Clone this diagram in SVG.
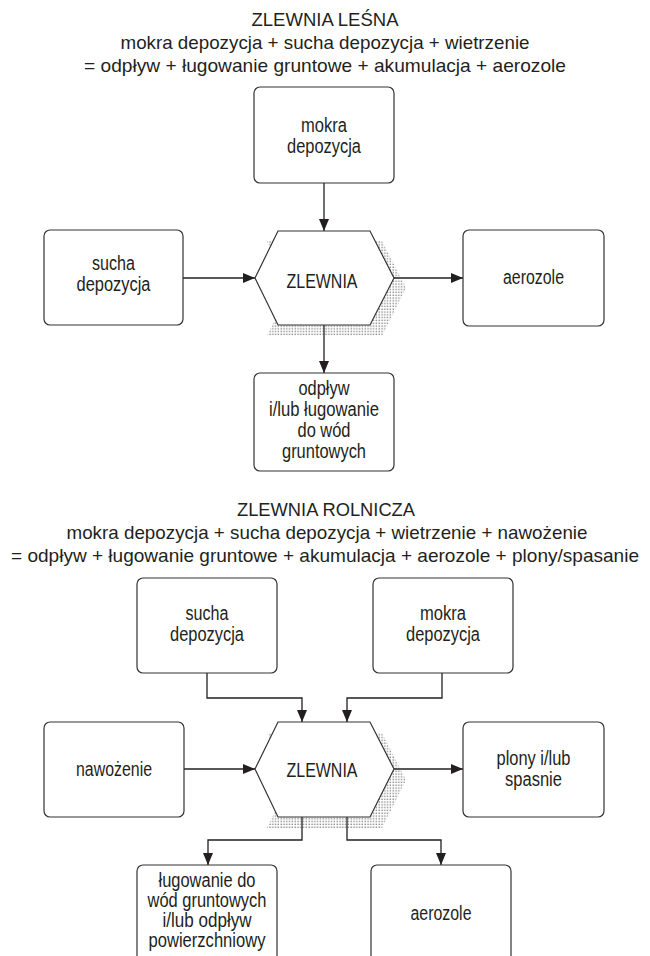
<svg xmlns="http://www.w3.org/2000/svg" width="650" height="956" viewBox="0 0 650 956">
<style>
.t{font-family:"Liberation Sans",Arial,sans-serif;fill:#231f20;text-anchor:middle;}
.h{font-size:19px;}
.n{font-size:19.5px;}
.z{font-size:20.5px;}
.box{fill:#fff;stroke:#333;stroke-width:1.2;}
.hex{fill:#fff;stroke:#333;stroke-width:1.2;}
.c{fill:none;stroke:#231f20;stroke-width:1.3;}
</style>
<defs>
<pattern id="dots" width="2.8" height="2.8" patternUnits="userSpaceOnUse">
<rect x="0.6" y="0.6" width="1.1" height="1.1" fill="#444"/>
</pattern>
<marker id="ah" markerUnits="userSpaceOnUse" markerWidth="12" markerHeight="10" refX="12" refY="5" orient="auto">
<path d="M0,0 L12,5 L0,10 z" fill="#231f20"/>
</marker>
</defs>

<!-- Titles -->
<g id="title-lesna">
<text class="t h" x="325" y="26" textLength="147" lengthAdjust="spacingAndGlyphs">ZLEWNIA LEŚNA</text>
<text class="t h" x="325" y="49" textLength="409" lengthAdjust="spacingAndGlyphs">mokra depozycja + sucha depozycja + wietrzenie</text>
<text class="t h" x="325" y="72" textLength="482" lengthAdjust="spacingAndGlyphs">= odpływ + ługowanie gruntowe + akumulacja + aerozole</text>
</g>
<g id="title-rolnicza">
<text class="t h" x="326" y="516" textLength="178" lengthAdjust="spacingAndGlyphs">ZLEWNIA ROLNICZA</text>
<text class="t h" x="327" y="539" textLength="521" lengthAdjust="spacingAndGlyphs">mokra depozycja + sucha depozycja + wietrzenie + nawożenie</text>
<text class="t h" x="325" y="562" textLength="628" lengthAdjust="spacingAndGlyphs">= odpływ + ługowanie gruntowe + akumulacja + aerozole + plony/spasanie</text>
</g>

<!-- Connectors -->
<g id="connectors">
<path class="c" d="M324,183 V231" marker-end="url(#ah)"/>
<path class="c" d="M183,278 H255" marker-end="url(#ah)"/>
<path class="c" d="M394,278 H463" marker-end="url(#ah)"/>
<path class="c" d="M324,325 V373" marker-end="url(#ah)"/>
<path class="c" d="M207,673 V698 H302 V722" marker-end="url(#ah)"/>
<path class="c" d="M442,673 V698 H347 V722" marker-end="url(#ah)"/>
<path class="c" d="M184,769 H255" marker-end="url(#ah)"/>
<path class="c" d="M394,769 H463" marker-end="url(#ah)"/>
<path class="c" d="M302,817 V840 H208 V865" marker-end="url(#ah)"/>
<path class="c" d="M347,817 V840 H441 V865" marker-end="url(#ah)"/>
</g>

<!-- Top section nodes -->
<g id="l-mokra">
<rect class="box" x="254" y="87" width="140" height="96" rx="6"/>
<text class="t n" x="324" y="132" textLength="46" lengthAdjust="spacingAndGlyphs">mokra</text>
<text class="t n" x="324" y="153" textLength="74" lengthAdjust="spacingAndGlyphs">depozycja</text>
</g>
<g id="l-sucha">
<rect class="box" x="44" y="230" width="139" height="95" rx="6"/>
<text class="t n" x="113.5" y="270" textLength="43" lengthAdjust="spacingAndGlyphs">sucha</text>
<text class="t n" x="113.5" y="291" textLength="74" lengthAdjust="spacingAndGlyphs">depozycja</text>
</g>
<g id="l-aerozole">
<rect class="box" x="463" y="230" width="141" height="96" rx="6"/>
<text class="t n" x="533.5" y="284" textLength="61" lengthAdjust="spacingAndGlyphs">aerozole</text>
</g>
<g id="l-zlewnia">
<polygon points="267,241 382,241 406,288 382,336 267,336 290,288" fill="url(#dots)"/>
<polygon class="hex" points="278,231 370,231 394,278 370,325 278,325 255,278"/>
<text class="t z" x="322" y="288" textLength="71" lengthAdjust="spacingAndGlyphs">ZLEWNIA</text>
</g>
<g id="l-odplyw">
<rect class="box" x="254" y="373" width="140" height="98" rx="6"/>
<text class="t n" x="324" y="395" textLength="51" lengthAdjust="spacingAndGlyphs">odpływ</text>
<text class="t n" x="324" y="416" textLength="110" lengthAdjust="spacingAndGlyphs">i/lub ługowanie</text>
<text class="t n" x="324" y="437" textLength="53" lengthAdjust="spacingAndGlyphs">do wód</text>
<text class="t n" x="324" y="458" textLength="84" lengthAdjust="spacingAndGlyphs">gruntowych</text>
</g>

<!-- Bottom section nodes -->
<g id="r-sucha">
<rect class="box" x="137" y="578" width="140" height="95" rx="6"/>
<text class="t n" x="207" y="620" textLength="43" lengthAdjust="spacingAndGlyphs">sucha</text>
<text class="t n" x="207" y="641" textLength="74" lengthAdjust="spacingAndGlyphs">depozycja</text>
</g>
<g id="r-mokra">
<rect class="box" x="373" y="578" width="140" height="95" rx="6"/>
<text class="t n" x="443" y="620" textLength="46" lengthAdjust="spacingAndGlyphs">mokra</text>
<text class="t n" x="443" y="641" textLength="74" lengthAdjust="spacingAndGlyphs">depozycja</text>
</g>
<g id="r-nawozenie">
<rect class="box" x="44" y="722" width="140" height="95" rx="6"/>
<text class="t n" x="114" y="776" textLength="76" lengthAdjust="spacingAndGlyphs">nawożenie</text>
</g>
<g id="r-plony">
<rect class="box" x="463" y="722" width="141" height="95" rx="6"/>
<text class="t n" x="533.5" y="765" textLength="74" lengthAdjust="spacingAndGlyphs">plony i/lub</text>
<text class="t n" x="533.5" y="786" textLength="57" lengthAdjust="spacingAndGlyphs">spasnie</text>
</g>
<g id="r-zlewnia">
<polygon points="267,733 382,733 406,780 382,828 267,828 290,780" fill="url(#dots)"/>
<polygon class="hex" points="278,722 370,722 394,769 370,817 278,817 255,769"/>
<text class="t z" x="322" y="777" textLength="71" lengthAdjust="spacingAndGlyphs">ZLEWNIA</text>
</g>
<g id="r-lugowanie">
<rect class="box" x="137" y="865" width="140" height="100" rx="6"/>
<text class="t n" x="207" y="887" textLength="97" lengthAdjust="spacingAndGlyphs">ługowanie do</text>
<text class="t n" x="207" y="907" textLength="119" lengthAdjust="spacingAndGlyphs">wód gruntowych</text>
<text class="t n" x="207" y="927" textLength="89" lengthAdjust="spacingAndGlyphs">i/lub odpływ</text>
<text class="t n" x="207" y="947" textLength="117" lengthAdjust="spacingAndGlyphs">powierzchniowy</text>
</g>
<g id="r-aerozole">
<rect class="box" x="371" y="865" width="140" height="100" rx="6"/>
<text class="t n" x="441" y="920" textLength="61" lengthAdjust="spacingAndGlyphs">aerozole</text>
</g>
</svg>
